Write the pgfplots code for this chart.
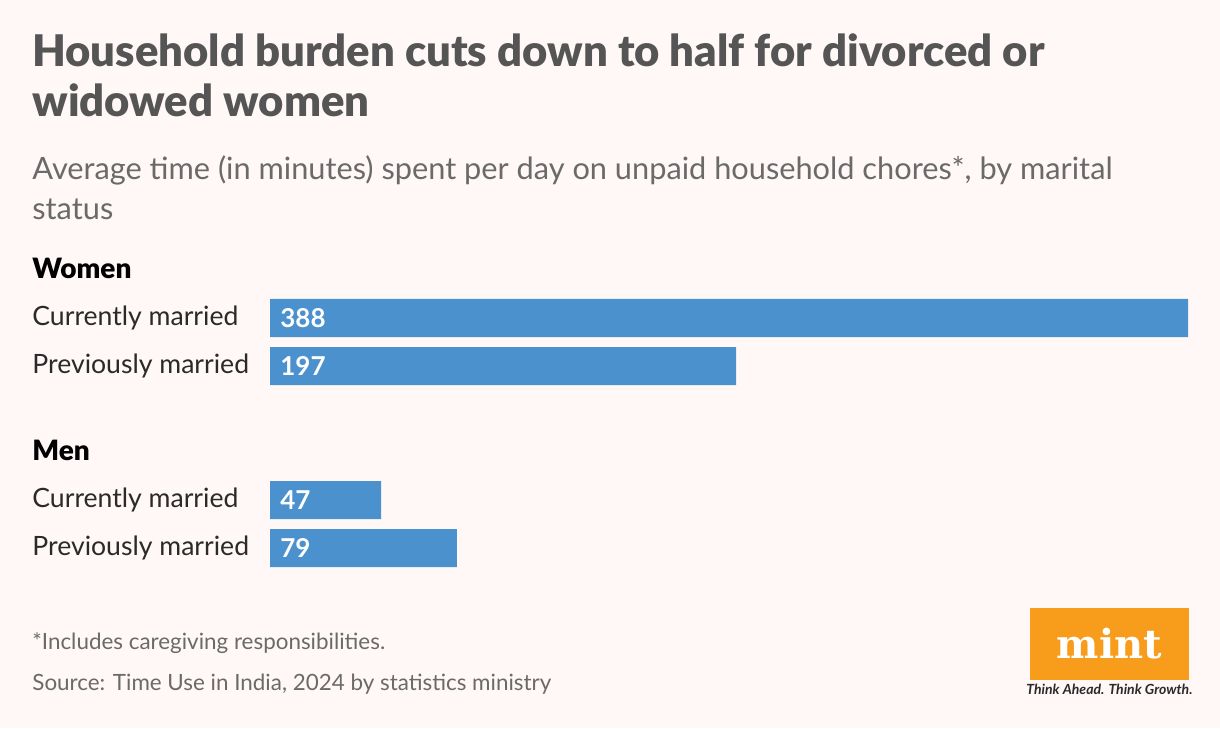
\documentclass[border=0pt]{standalone}
\usepackage{pgfplots}
\usepackage{pgfplotstable}
\pgfplotsset{compat=1.18}
\usepackage{fontspec}
\setmainfont{Lato}
\newfontfamily\blackfont{Lato Black}
\newfontfamily\logofont{DejaVu Serif}
\definecolor{bg}{HTML}{FFF8F7}
\definecolor{titlegray}{HTML}{555555}
\definecolor{subgray}{HTML}{6A6A6A}
\definecolor{labgray}{HTML}{2A2A2A}
\definecolor{barblue}{HTML}{4A91CE}
\definecolor{mintorange}{HTML}{F89C1C}
\pgfplotstableread{
y v
0 388
48 197
182 47
230 79
}\data
\begin{document}
\begin{tikzpicture}[x=1pt,y=1pt]
\fill[bg] (0,0) rectangle (610,364);
\node[anchor=base west, inner sep=0, font=\blackfont\fontsize{21.8}{25}\selectfont, text=titlegray] at (16,330.5) {Household burden cuts down to half for divorced or};
\node[anchor=base west, inner sep=0, font=\blackfont\fontsize{21.8}{25}\selectfont, text=titlegray] at (16,305.5) {widowed women};
\node[anchor=base west, inner sep=0, font=\fontsize{15.37}{18}\selectfont, text=subgray] at (16,274) {Average time (in minutes) spent per day on unpaid household chores*, by marital};
\node[anchor=base west, inner sep=0, font=\fontsize{15.37}{18}\selectfont, text=subgray] at (16,254) {status};
\node[anchor=base west, inner sep=0, font=\blackfont\fontsize{14}{16}\selectfont, text=black] at (16,224.5) {Women};
\node[anchor=base west, inner sep=0, font=\blackfont\fontsize{14}{16}\selectfont, text=black] at (16,133.5) {Men};
\begin{axis}[at={(135pt,80.5pt)}, anchor=south west, scale only axis,
  width=459pt, height=134pt,
  xmin=0, xmax=388, ymin=-19, ymax=249, y dir=reverse,
  axis line style={draw=none}, tick style={draw=none},
  /pgf/number format/assume math mode=true,
  xtick=\empty, ytick={0,48,182,230},
  yticklabels={Currently married, Previously married, Currently married, Previously married},
  yticklabel style={anchor=west, inner sep=0pt, xshift=-119pt, font=\fontsize{13.3}{16}\selectfont, text=labgray},
  clip=false]
\addplot[xbar, bar width=38, fill=barblue, draw=none] table[x=v, y=y] {\data};
\addplot[draw=none, mark=none, nodes near coords, point meta=explicit,
  nodes near coords style={anchor=west, inner sep=0pt, xshift=5pt, font=\bfseries\fontsize{13}{16}\selectfont, text=white}]
  table[x expr=0, y=y, meta=v] {\data};
\end{axis}
\node[anchor=base west, inner sep=0, font=\fontsize{11.2}{13}\selectfont, text=subgray] at (16,39) {*Includes caregiving responsibilities.};
\node[anchor=base west, inner sep=0, font=\fontsize{11.2}{13}\selectfont, text=subgray] at (16,19) {Source: Time Use in India, 2024 by statistics ministry};
\fill[mintorange] (515,24) rectangle (594.5,60);
\node[font=\logofont\fontsize{20}{22}\selectfont\bfseries, text=white, inner sep=0] at (554.75,42) {mint};
\node[anchor=base, inner sep=0, font=\fontsize{7}{8}\selectfont\bfseries\itshape, text=labgray] at (554.75,16.5) {Think Ahead. Think Growth.};
\end{tikzpicture}
\end{document}
